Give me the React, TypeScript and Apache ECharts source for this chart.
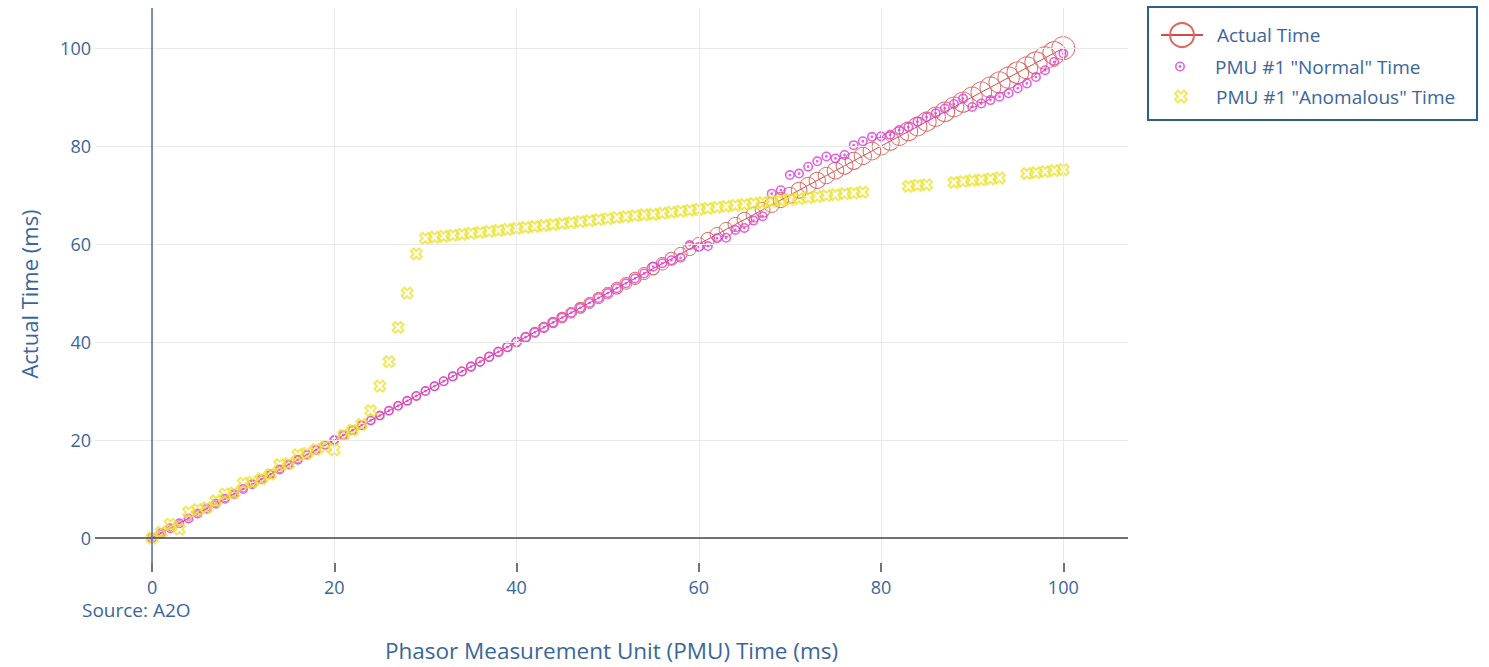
import React, { useEffect, useRef } from 'react';
import * as echarts from 'echarts';

// ---------- data ----------
const pmuTime = [
  0, 1, 2, 3, 4, 5, 6, 7, 8, 9, 10, 11, 12, 13, 14, 15, 16, 17, 18, 19, 20,
  21, 22, 23, 24, 25, 26, 27, 28, 29, 30, 31, 32, 33, 34, 35, 36, 37, 38, 39, 40,
  41, 42, 43, 44, 45, 46, 47, 48, 49, 50, 51, 52, 53, 54, 55, 56, 57, 58, 59, 60,
  61, 62, 63, 64, 65, 66, 67, 68, 69, 70, 71, 72, 73, 74, 75, 76, 77, 78, 79, 80,
  81, 82, 83, 84, 85, 86, 87, 88, 89, 90, 91, 92, 93, 94, 95, 96, 97, 98, 99, 100,
];

const actualTime = [
  0, 1, 2, 3, 4, 5, 6, 7, 8, 9, 10, 11, 12, 13, 14, 15, 16, 17, 18, 19, 20,
  21, 22, 23, 24, 25, 26, 27, 28, 29, 30, 31, 32, 33, 34, 35, 36, 37, 38, 39, 40,
  41, 42, 43, 44, 45, 46, 47, 48, 49, 50, 51, 52, 53, 54, 55, 56, 57, 58, 59, 60,
  61, 62, 63, 64, 65, 66, 67, 68, 69, 70, 71, 72, 73, 74, 75, 76, 77, 78, 79, 80,
  81, 82, 83, 84, 85, 86, 87, 88, 89, 90, 91, 92, 93, 94, 95, 96, 97, 98, 99, 100,
];

const normalTime = [
  0, 1, 2, 3, 4, 5, 6, 7, 8, 9, 10, 11, 12, 13, 14, 15, 16, 17, 18, 19, 20,
  21, 22, 23, 24, 25, 26, 27, 28, 29, 30, 31, 32, 33, 34, 35, 36, 37, 38, 39, 40,
  41, 42, 43, 44, 45, 46, 47, 48, 49, 50, 51, 52, 53, 54,
  55.4, 56.1, 56.7, 57.2, 59.8, 59.4, 59.6, 61.2, 61.3, 62.9, 63.3, 64.8, 65.7,
  70.3, 71.0, 74.1, 74.4, 75.8, 76.9, 77.9, 77.5, 78.2, 80.2, 81.0, 81.9, 82.0,
  82.3, 83.3, 83.9, 85.0, 85.9, 86.7, 87.7, 88.6, 89.7, 88.0, 88.7, 89.4, 90.1,
  90.8, 91.8, 92.8, 94.1, 95.5, 97.2, 98.9,
];

const anomalousPmuTime = [
  0, 1, 2, 3, 4, 5, 6, 7, 8, 9, 10, 11, 12, 13, 14, 15, 16, 17, 18, 19, 20,
  21, 22, 23, 24, 25, 26, 27, 28, 29, 30, 31, 32, 33, 34, 35, 36, 37, 38, 39, 40,
  41, 42, 43, 44, 45, 46, 47, 48, 49, 50, 51, 52, 53, 54, 55, 56, 57, 58, 59, 60,
  61, 62, 63, 64, 65, 66, 67, 68, 69, 70, 71, 72, 73, 74, 75, 76, 77, 78,
  83, 84, 85, 88, 89, 90, 91, 92, 93, 96, 97, 98, 99, 100,
];

const anomalousTime = [
  0, 1.2, 2.8, 1.8, 5.3, 5.8, 6.2, 7.6, 9.0, 9.2, 11.2, 11.4, 12.1, 13.0, 15.0,
  15.2, 17.0, 17.3, 18.1, 18.6, 18.0, 21.0, 22.0, 23.2, 26.0, 31.0, 36.0, 43.0,
  50.0, 58.0, 61.2, 61.4, 61.6, 61.8, 62.0, 62.2, 62.4, 62.6, 62.8, 63.0, 63.2,
  63.4, 63.6, 63.8, 64.0, 64.2, 64.4, 64.6, 64.8, 65.0, 65.2, 65.4, 65.6, 65.8,
  66.0, 66.1, 66.3, 66.5, 66.7, 66.9, 67.1, 67.3, 67.5, 67.7, 67.9, 68.1, 68.3,
  68.5, 68.7, 68.9, 69.1, 69.3, 69.5, 69.7, 69.9, 70.1, 70.3, 70.4, 70.6,
  71.8, 72.0, 72.1, 72.6, 72.8, 73.0, 73.1, 73.3, 73.5, 74.4, 74.6, 74.8, 75.0, 75.2,
];

const xTicks = [0, 20, 40, 60, 80, 100];
const yTicks = [0, 20, 40, 60, 80, 100];

const seriesNames = ['Actual Time', 'PMU #1 "Normal" Time', 'PMU #1 "Anomalous" Time'];
const xTitle = 'Phasor Measurement Unit (PMU) Time (ms)';
const yTitle = 'Actual Time (ms)';
const sourceNote = 'Source: A2O';

// ---------- styles ----------
const FONT = '"Open Sans", "Noto Sans", sans-serif';
const TEXT = '#3a6699';
const RED = '#d6494a';
const RED_MARK = '#dc6a66';
const MAGENTA = '#dd3cdd';
const YELLOW = '#ece43a';

const CIRCLE_DOT =
  'path://M10,0 A10,10 0 1,1 10,20 A10,10 0 1,1 10,0 Z ' +
  'M10,3.2 A6.8,6.8 0 1,0 10,16.8 A6.8,6.8 0 1,0 10,3.2 Z ' +
  'M10,7.2 A2.8,2.8 0 1,1 10,12.8 A2.8,2.8 0 1,1 10,7.2 Z';
const X_OPEN =
  'path://M5,0 L10,5 L15,0 L20,5 L15,10 L20,15 L15,20 L10,15 L5,20 L0,15 L5,10 L0,5 Z';

export default function App() {
  const ref = useRef<HTMLDivElement>(null);

  useEffect(() => {
    if (!ref.current) return;
    const chart = echarts.init(ref.current, undefined, { renderer: 'svg' });

    const actualData = pmuTime.map((x, i) => [x, actualTime[i]]);
    const normalData = pmuTime.map((x, i) => [x, normalTime[i]]);
    const anomalousData = anomalousPmuTime.map((x, i) => [x, anomalousTime[i]]);

    const gridLines = [
      ...xTicks.map((v) => ({ xAxis: v })),
      ...yTicks.map((v) => ({ yAxis: v })),
    ];

    const legendBase = {
      orient: 'vertical' as const,
      padding: 0,
      itemWidth: 42,
      textStyle: {
        color: TEXT,
        fontSize: 19,
        fontFamily: FONT,
        padding: [0, 0, 0, 9],
      },
    };

    chart.setOption({
      animation: false,
      backgroundColor: '#ffffff',
      textStyle: { fontFamily: FONT },
      grid: { left: 95, right: 361, top: 8, bottom: 104, containLabel: false },
      xAxis: {
        type: 'value',
        min: -6.26,
        max: 107.1,
        axisLine: { show: false, onZero: false },
        axisTick: {
          show: true,
          customValues: xTicks,
          length: 9,
          lineStyle: { color: '#444444', width: 1.5 },
        },
        axisLabel: {
          customValues: xTicks,
          margin: 15,
          color: TEXT,
          fontSize: 18,
          lineHeight: 18,
          fontFamily: FONT,
        },
        splitLine: { show: false },
        name: xTitle,
        nameLocation: 'middle',
        nameGap: 76,
        nameTextStyle: { color: TEXT, fontSize: 22.5, fontFamily: FONT },
      },
      yAxis: {
        type: 'value',
        min: -5.1,
        max: 108.2,
        axisLine: { show: false, onZero: false },
        axisTick: { show: false },
        axisLabel: {
          customValues: yTicks,
          margin: 4,
          color: TEXT,
          fontSize: 18,
          fontFamily: FONT,
        },
        splitLine: { show: false },
      },
      legend: [
        { ...legendBase, left: 1160, top: 22, itemHeight: 30, data: [seriesNames[0]] },
        { ...legendBase, left: 1175, top: 57, itemHeight: 10, data: [seriesNames[1]] },
        { ...legendBase, left: 1174, top: 87, itemHeight: 12, data: [seriesNames[2]] },
      ],
      graphic: [
        {
          type: 'rect',
          shape: { x: 1148, y: 7, width: 329, height: 113 },
          style: { fill: 'none', stroke: '#2f5d8c', lineWidth: 2 },
          silent: true,
        },
        {
          type: 'text',
          x: 29,
          y: 294,
          rotation: Math.PI / 2,
          style: {
            text: yTitle,
            fill: TEXT,
            font: `22px ${FONT}`,
            align: 'center',
            verticalAlign: 'middle',
          },
        },
        {
          type: 'text',
          x: 82,
          y: 610,
          style: {
            text: sourceNote,
            fill: TEXT,
            font: `19px ${FONT}`,
            lineHeight: 19,
            align: 'left',
            verticalAlign: 'middle',
          },
        },
      ],
      series: [
        {
          name: '__grid',
          type: 'scatter',
          data: [[0, 0]],
          symbolSize: 0,
          silent: true,
          z: 0,
          markLine: {
            silent: true,
            symbol: ['none', 'none'],
            label: { show: false },
            animation: false,
            lineStyle: { color: '#e9e9e9', width: 1, type: 'solid' },
            data: [
              ...gridLines,
              { yAxis: 0, lineStyle: { color: '#444444', width: 1.5, type: 'solid' } },
              { xAxis: 0, lineStyle: { color: '#4d7196', width: 1.5, type: 'solid' } },
            ],
          },
        },
        {
          name: seriesNames[0],
          type: 'line',
          data: actualData,
          symbol: 'circle',
          symbolSize: (v: number[]) => 5 + 0.08 * v[0] + 0.001 * v[0] * v[0],
          showSymbol: true,
          lineStyle: { color: RED, width: 1 },
          itemStyle: { color: 'rgba(0,0,0,0)', borderColor: RED_MARK, borderWidth: 1 },
          emphasis: { disabled: true },
          z: 2,
        },
        {
          name: seriesNames[1],
          type: 'scatter',
          data: normalData,
          symbol: CIRCLE_DOT,
          symbolSize: 10,
          itemStyle: { color: MAGENTA },
          emphasis: { disabled: true },
          z: 3,
        },
        {
          name: seriesNames[2],
          type: 'scatter',
          data: anomalousData,
          symbol: X_OPEN,
          symbolSize: 11,
          itemStyle: { color: 'rgba(0,0,0,0)', borderColor: YELLOW, borderWidth: 2 },
          emphasis: { disabled: true },
          z: 4,
        },
      ],
    });

    return () => chart.dispose();
  }, []);

  return (
    <div
      ref={ref}
      style={{ position: 'fixed', left: 0, top: 0, width: 1489, height: 667, background: '#fff' }}
    />
  );
}
